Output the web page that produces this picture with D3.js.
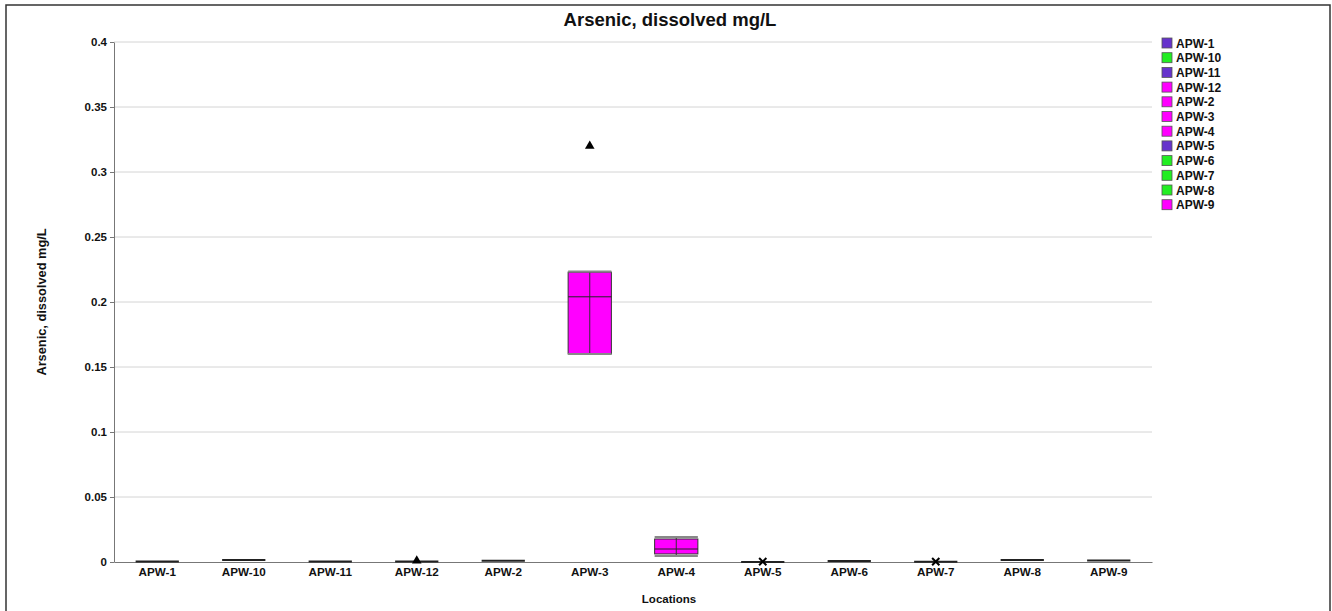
<!DOCTYPE html>
<html><head><meta charset="utf-8">
<script src="https://cdn.jsdelivr.net/npm/d3@7"></script>
<style>body{margin:0;background:#fff;} svg{display:block;font-family:"Liberation Sans",Arial,sans-serif;}</style>
</head><body>
<svg id="c" width="1332" height="611"></svg>
<script>
const categories = ["APW-1","APW-10","APW-11","APW-12","APW-2","APW-3","APW-4","APW-5","APW-6","APW-7","APW-8","APW-9"];
const colors = ["#6633cc","#22ee22","#6633cc","#ff00ff","#ff00ff","#ff00ff","#ff00ff","#6633cc","#22ee22","#22ee22","#22ee22","#ff00ff"];
const minVals = [0.0003,0.0015,0.0004,0.0004,0.001,0.16,0.0046,0.0,0.0008,0.0002,0.0015,0.0012];
const q1Vals  = [0.0003,0.0015,0.0004,0.0004,0.001,0.16,0.0062,0.0,0.0008,0.0002,0.0015,0.0012];
const medVals = [0.0003,0.0015,0.0004,0.0004,0.001,0.204,0.01,0.0,0.0008,0.0002,0.0015,0.0012];
const q3Vals  = [0.0003,0.0015,0.0004,0.0004,0.001,0.223,0.0177,0.0,0.0008,0.0002,0.0015,0.0012];
const maxVals = [0.0003,0.0015,0.0004,0.0004,0.001,0.2235,0.0192,0.0,0.0008,0.0002,0.0015,0.0012];
const outlierCats = ["APW-3","APW-12","APW-5","APW-7"];
const outlierVals = [0.32,0.001,0.0003,0.0003];
const outlierShapes = ["triangle","triangle","cross","cross"];
const yTicks = [0,0.05,0.1,0.15,0.2,0.25,0.3,0.35,0.4];

const svg = d3.select("#c");
const L=114, R=1152, T=42, B=562;
const x = d3.scaleBand().domain(categories).range([L,R]).padding(0);
const y = d3.scaleLinear().domain([0,0.4]).range([B,T]);

// frame
svg.append("rect").attr("x",6).attr("y",5).attr("width",1324).attr("height",640)
  .attr("fill","none").attr("stroke","#333").attr("stroke-width",1.5);

// title
svg.append("text").attr("x",670).attr("y",26).attr("text-anchor","middle")
  .attr("font-size",18.5).attr("font-weight","bold").attr("fill","#111").text("Arsenic, dissolved mg/L");

// gridlines
svg.append("g").selectAll("line").data(yTicks.filter(d=>d>0)).join("line")
  .attr("x1",L).attr("x2",R).attr("y1",d=>y(d)).attr("y2",d=>y(d))
  .attr("stroke","#d4d4d4").attr("stroke-width",1);

// y axis
const ya = svg.append("g").attr("transform",`translate(${L},0)`)
  .call(d3.axisLeft(y).tickValues(yTicks).tickSize(4).tickSizeOuter(0).tickFormat(d=>d===0?"0":String(+d.toFixed(2))));
ya.select(".domain").attr("stroke","#777");
ya.selectAll(".tick line").attr("stroke","#777");
ya.selectAll(".tick text").attr("font-size",11.5).attr("font-weight","bold").attr("fill","#111").attr("font-family","Liberation Sans, Arial, sans-serif");

// x axis
const xa = svg.append("g").attr("transform",`translate(0,${B})`)
  .call(d3.axisBottom(x).tickSize(0).tickSizeOuter(0));
xa.select(".domain").attr("stroke","#777");
xa.selectAll(".tick text").attr("dy","0.9em").attr("font-size",11.7).attr("font-weight","bold").attr("fill","#111").attr("font-family","Liberation Sans, Arial, sans-serif");

// axis labels
svg.append("text").attr("transform",`translate(46,${(T+B)/2}) rotate(-90)`).attr("text-anchor","middle")
  .attr("font-size",12.8).attr("font-weight","bold").attr("fill","#111").text("Arsenic, dissolved mg/L");
svg.append("text").attr("x",669).attr("y",603).attr("text-anchor","middle")
  .attr("font-size",11.5).attr("font-weight","bold").attr("fill","#111").text("Locations");

// boxes
const bw = x.bandwidth()*0.5;
const g = svg.append("g");
categories.forEach((c,i)=>{
  const cx = x(c)+x.bandwidth()/2;
  const degenerate = q3Vals[i]-q1Vals[i] < 0.001;
  if(degenerate){
    g.append("line").attr("x1",cx-bw/2).attr("x2",cx+bw/2).attr("y1",y(medVals[i])).attr("y2",y(medVals[i]))
      .attr("stroke","#222").attr("stroke-width",2);
    return;
  }
  g.append("rect").attr("x",cx-bw/2).attr("width",bw).attr("y",y(q3Vals[i])).attr("height",y(q1Vals[i])-y(q3Vals[i]))
    .attr("fill",colors[i]).attr("stroke","#333").attr("stroke-width",1);
  g.append("line").attr("x1",cx).attr("x2",cx).attr("y1",y(maxVals[i])).attr("y2",y(minVals[i])).attr("stroke","#333");
  g.append("line").attr("x1",cx-bw/2).attr("x2",cx+bw/2).attr("y1",y(medVals[i])).attr("y2",y(medVals[i])).attr("stroke","#222");
  [maxVals[i],minVals[i]].forEach(v=>{
    g.append("line").attr("x1",cx-bw/2).attr("x2",cx+bw/2).attr("y1",y(v)).attr("y2",y(v)).attr("stroke","#888").attr("stroke-width",2);
  });
});

// outliers
outlierCats.forEach((c,i)=>{
  const cx = x(c)+x.bandwidth()/2, cy = y(outlierVals[i]);
  const type = outlierShapes[i]==="triangle"?d3.symbolTriangle:d3.symbolTimes;
  const p = svg.append("path").attr("transform",`translate(${cx},${cy})`).attr("d",d3.symbol().type(type).size(outlierShapes[i]==="triangle"?40:36)());
  if(outlierShapes[i]==="triangle") p.attr("fill","#000");
  else p.attr("fill","none").attr("stroke","#000").attr("stroke-width",2);
});

// legend
const lg = svg.append("g");
categories.forEach((c,i)=>{
  const yy = 43 + i*14.7;
  lg.append("rect").attr("x",1162).attr("y",yy-5).attr("width",10).attr("height",10)
    .attr("fill",colors[i]).attr("stroke","#555").attr("stroke-width",0.8);
  lg.append("text").attr("x",1176).attr("y",yy+4.5).attr("font-size",12).attr("font-weight","bold").attr("fill","#111").text(c);
});
</script>
</body></html>
